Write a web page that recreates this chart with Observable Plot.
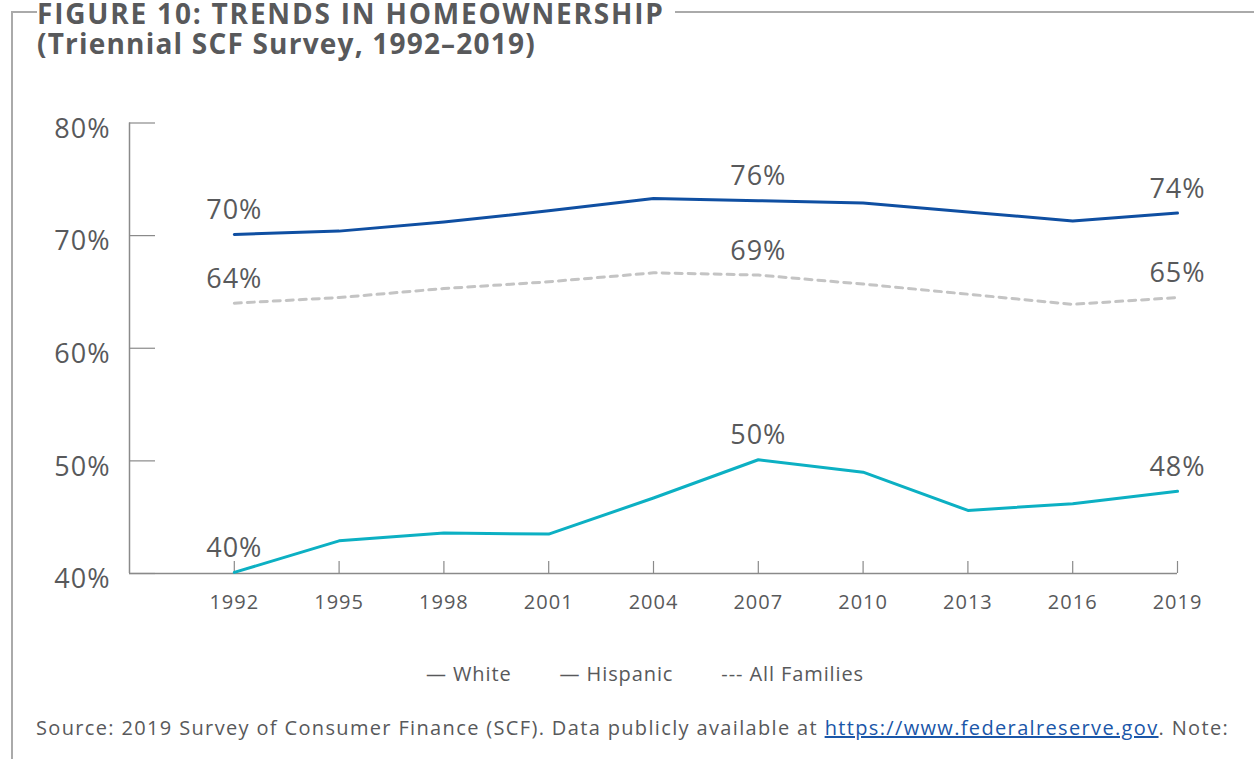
<!DOCTYPE html>
<html>
<head>
<meta charset="utf-8">
<script src="https://cdn.jsdelivr.net/npm/d3@7"></script>
<script src="https://cdn.jsdelivr.net/npm/@observablehq/plot@0.6"></script>
<style>
  html, body { margin: 0; padding: 0; background: #fff; }
  #wrap { position: relative; width: 1254px; height: 759px; overflow: hidden; font-family: "Open Sans", sans-serif; color: #58595b; }
  .bline { position: absolute; background: #aaa; }
  #title { position: absolute; left: 37px; top: 0px; font-size: 28px; letter-spacing: 1.8px; font-weight: 700; line-height: 26px; white-space: nowrap; background: #fff; padding-right: 10px; }
  #sub { position: absolute; left: 37px; top: 30px; font-size: 28px; letter-spacing: 1.2px; font-weight: 700; line-height: 26px; white-space: nowrap; }
  #chart { position: absolute; left: 0; top: 100px; }
  #legend { position: absolute; left: 0; width: 1290px; top: 660px; text-align: center; font-size: 20px; letter-spacing: 0.9px; line-height: 28px; color: #58595b; white-space: nowrap; }
  #legend span { margin: 0 24px; }
  #source { position: absolute; left: 36px; top: 714px; font-size: 20px; letter-spacing: 1.35px; line-height: 28px; color: #58595b; white-space: nowrap; }
  #source a { color: #1a56a8; text-decoration: underline; }
</style>
</head>
<body>
<div id="wrap">
  <div class="bline" style="left:12px; top:11px; width:1242px; height:1.5px;"></div>
  <div class="bline" style="left:11px; top:11px; width:1.5px; height:760px;"></div>
  <div id="title">FIGURE 10: TRENDS IN HOMEOWNERSHIP</div>
  <div id="sub">(Triennial SCF Survey, 1992–2019)</div>
  <div id="chart"></div>
  <div id="legend"><span>— White</span><span>— Hispanic</span><span>--- All Families</span></div>
  <div id="source">Source: 2019 Survey of Consumer Finance (SCF). Data publicly available at <a>https://www.federalreserve.gov</a>. Note:</div>
</div>
<script>
const years = [1992, 1995, 1998, 2001, 2004, 2007, 2010, 2013, 2016, 2019];
const white = [70.1, 70.4, 71.2, 72.2, 73.3, 73.1, 72.9, 72.1, 71.3, 72.0];
const hispanic = [40.1, 42.9, 43.6, 43.5, 46.7, 50.1, 49.0, 45.6, 46.2, 47.3];
const allFamilies = [64.0, 64.5, 65.3, 65.9, 66.7, 66.5, 65.7, 64.8, 63.9, 64.5];

const labelYears = [1992, 2007, 2019];
const whiteLabels = ["70%", "76%", "74%"];
const hispanicLabels = ["40%", "50%", "48%"];
const allFamiliesLabels = ["64%", "69%", "65%"];

const yTicks = [40, 50, 60, 70, 80];
const xDomain = [1989, 2019];
const yDomain = [40, 80];

const series = [
  {name: "White", values: white, labels: whiteLabels},
  {name: "Hispanic", values: hispanic, labels: hispanicLabels},
  {name: "All Families", values: allFamilies, labels: allFamiliesLabels}
];
const rows = series.flatMap(s => years.map((yr, i) => ({series: s.name, year: yr, value: s.values[i]})));
const labelRows = series.flatMap(s => labelYears.map((yr, i) => ({series: s.name, year: yr, value: s.values[years.indexOf(yr)], text: s.labels[i]})));

const colors = {"White": "#0f4fa2", "Hispanic": "#0cb0c3", "All Families": "#c4c4c4"};
const font = "'Open Sans', sans-serif";

const chart = Plot.plot({
  width: 1254,
  height: 540,
  marginTop: 22.5,
  marginBottom: 67,
  marginLeft: 129,
  marginRight: 77,
  x: {domain: xDomain},
  y: {domain: yDomain},
  style: {fontFamily: font, color: "#58595b", background: "transparent"},
  marks: [
    Plot.ruleX([xDomain[0]], {stroke: "#8a8a8a", strokeWidth: 1.5}),
    Plot.ruleY([yDomain[0]], {stroke: "#8a8a8a", strokeWidth: 1.5}),
    Plot.axisY({ticks: yTicks, tickSize: -26, fill: "none", stroke: "#8a8a8a", strokeWidth: 1.2, label: null}),
    Plot.axisY({ticks: yTicks, tickSize: 0, tickPadding: 19, tickFormat: d => d + "%", fontSize: 27, fill: "#58595b", dy: 6, label: null, style: {letterSpacing: "2.5px"}}),
    Plot.axisX({ticks: years, tickSize: -12, fill: "none", stroke: "#8a8a8a", strokeWidth: 1.2, label: null}),
    Plot.axisX({ticks: years, tickSize: 0, tickPadding: 21, tickFormat: d => String(d), fontSize: 20, fill: "#58595b", label: null}),
    Plot.line(rows.filter(d => d.series === "All Families"), {x: "year", y: "value", stroke: colors["All Families"], strokeWidth: 3, strokeDasharray: "7,6"}),
    Plot.line(rows.filter(d => d.series === "White"), {x: "year", y: "value", stroke: colors["White"], strokeWidth: 3}),
    Plot.line(rows.filter(d => d.series === "Hispanic"), {x: "year", y: "value", stroke: colors["Hispanic"], strokeWidth: 3}),
    Plot.text(labelRows, {x: "year", y: "value", text: "text", dy: -24, fontSize: 27, fill: "#58595b"})
  ]
});
chart.querySelectorAll("text").forEach(t => t.setAttribute("letter-spacing", "1"));
document.getElementById("chart").appendChild(chart);
</script>
</body>
</html>
